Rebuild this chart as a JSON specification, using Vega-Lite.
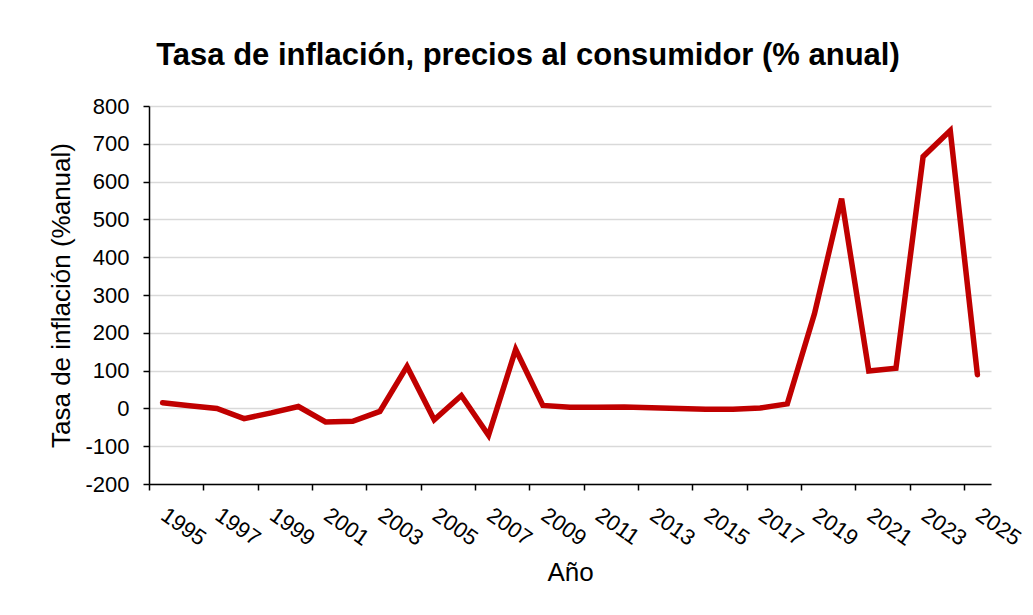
{
  "$schema": "https://vega.github.io/schema/vega-lite/v6.json",
  "autosize": "none",
  "width": 842,
  "height": 378,
  "padding": {"left": 149, "top": 106, "right": 42, "bottom": 131},
  "background": "white",
  "title": {
    "text": "Tasa de inflación, precios al consumidor (% anual)",
    "font": "Liberation Sans",
    "fontSize": 31,
    "fontWeight": "bold",
    "color": "black",
    "anchor": "middle",
    "frame": "group",
    "dx": -42,
    "offset": 23
  },
  "data": {
    "values": [
      {"year": 1995, "inflation": 15},
      {"year": 1996, "inflation": 7},
      {"year": 1997, "inflation": 0},
      {"year": 1998, "inflation": -27},
      {"year": 1999, "inflation": -12},
      {"year": 2000, "inflation": 5},
      {"year": 2001, "inflation": -36},
      {"year": 2002, "inflation": -34},
      {"year": 2003, "inflation": -8},
      {"year": 2004, "inflation": 111},
      {"year": 2005, "inflation": -30},
      {"year": 2006, "inflation": 34},
      {"year": 2007, "inflation": -71},
      {"year": 2008, "inflation": 156},
      {"year": 2009, "inflation": 8},
      {"year": 2010, "inflation": 3},
      {"year": 2011, "inflation": 3},
      {"year": 2012, "inflation": 4},
      {"year": 2013, "inflation": 2},
      {"year": 2014, "inflation": 0},
      {"year": 2015, "inflation": -2},
      {"year": 2016, "inflation": -2},
      {"year": 2017, "inflation": 1},
      {"year": 2018, "inflation": 12},
      {"year": 2019, "inflation": 250},
      {"year": 2020, "inflation": 555},
      {"year": 2021, "inflation": 99},
      {"year": 2022, "inflation": 106},
      {"year": 2023, "inflation": 666},
      {"year": 2024, "inflation": 735},
      {"year": 2025, "inflation": 89}
    ]
  },
  "mark": {"type": "line", "color": "#c00000", "strokeWidth": 5.5, "strokeCap": "round", "strokeJoin": "miter"},
  "encoding": {
    "x": {
      "field": "year",
      "type": "quantitative",
      "scale": {"domain": [1994.5, 2025.5], "nice": false, "zero": false},
      "axis": {
        "title": "Año",
        "values": [1994.5, 1996.5, 1998.5, 2000.5, 2002.5, 2004.5, 2006.5, 2008.5, 2010.5, 2012.5, 2014.5, 2016.5, 2018.5, 2020.5, 2022.5, 2024.5],
        "labelExpr": "format(datum.value + 0.5, 'd')",
        "labelAngle": 35,
        "labelAlign": "left",
        "labelBaseline": "alphabetic",
        "labelOffset": 10,
        "labelPadding": 28,
        "labelOverlap": false,
        "labelFlush": false,
        "grid": false,
        "tickSize": 6,
        "titlePadding": 10
      }
    },
    "y": {
      "field": "inflation",
      "type": "quantitative",
      "scale": {"domain": [-200, 800], "nice": false, "zero": false},
      "axis": {
        "title": "Tasa de inflación (%anual)",
        "values": [-200, -100, 0, 100, 200, 300, 400, 500, 600, 700, 800],
        "labelExpr": "replace(datum.label, '−', '-')",
        "tickSize": 6,
        "labelPadding": 14,
        "titlePadding": 10,
        "grid": true
      }
    }
  },
  "config": {
    "view": {"stroke": null},
    "axis": {
      "labelFont": "Liberation Sans",
      "labelFontSize": 22,
      "labelColor": "black",
      "titleFont": "Liberation Sans",
      "titleFontSize": 26,
      "titleFontWeight": "normal",
      "titleColor": "black",
      "domainColor": "black",
      "domainWidth": 1.5,
      "tickColor": "black",
      "tickWidth": 1.5,
      "gridColor": "#d9d9d9",
      "gridWidth": 1.5
    }
  }
}
